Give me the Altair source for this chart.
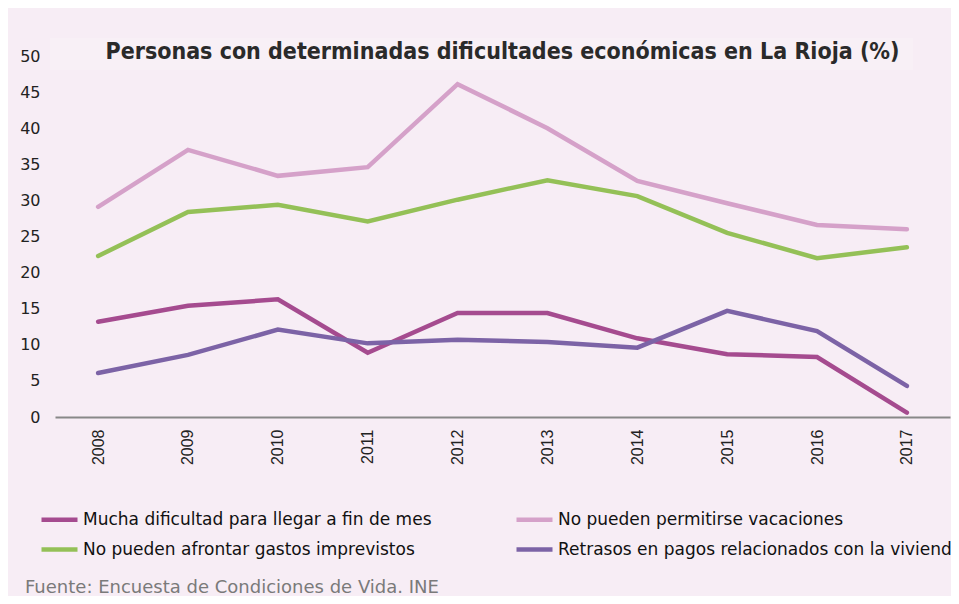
import altair as alt
import pandas as pd

years = ["2008", "2009", "2010", "2011", "2012", "2013", "2014", "2015", "2016", "2017"]
series = [
    "Mucha dificultad para llegar a fin de mes",
    "No pueden afrontar gastos imprevistos",
    "No pueden permitirse vacaciones",
    "Retrasos en pagos relacionados con la vivienda",
]
mucha = [13.2, 15.4, 16.3, 8.9, 14.4, 14.4, 10.9, 8.7, 8.3, 0.6]
imprevistos = [22.3, 28.4, 29.4, 27.1, 30.1, 32.8, 30.6, 25.5, 22.0, 23.5]
vacaciones = [29.1, 37.0, 33.4, 34.6, 46.1, 40.0, 32.7, 29.6, 26.6, 26.0]
retrasos = [6.1, 8.6, 12.1, 10.2, 10.7, 10.4, 9.6, 14.7, 11.9, 4.3]
colors = ["#a54b8f", "#94c057", "#d5a1c9", "#7c63a6"]

title_text = "Personas con determinadas dificultades económicas en La Rioja (%)"
source_text = "Fuente: Encuesta de Condiciones de Vida. INE"

rows = []
for name, vals in zip(series, [mucha, imprevistos, vacaciones, retrasos]):
    for y, v in zip(years, vals):
        rows.append({"year": y, "value": v, "serie": name})
df = pd.DataFrame(rows)

W, H = 895, 361
BG = "#f7edf5"

band = alt.Chart(pd.DataFrame({"a": [1]})).mark_rect(color="#f8f0f6").encode(
    x=alt.value(-5), x2=alt.value(858), y=alt.value(-18), y2=alt.value(14)
)

lines = alt.Chart(df).mark_line(strokeWidth=4.5, strokeCap="round", strokeJoin="miter").encode(
    x=alt.X("year:N", sort=years,
            scale=alt.Scale(type="point", padding=0.48),
            axis=alt.Axis(title=None, labelAngle=270, labelAlign="right", labelBaseline="middle",
                          labelPadding=12, ticks=False, domainColor="#888888", domainWidth=2,
                          labelFont="Liberation Sans", labelFontSize=16, labelColor="#222222")),
    y=alt.Y("value:Q", scale=alt.Scale(domain=[0, 50], nice=False),
            axis=alt.Axis(title=None, values=list(range(0, 55, 5)), grid=False, domain=False,
                          ticks=False, labelPadding=15, labelFont="DejaVu Sans",
                          labelFontSize=16, labelColor="#222222")),
    color=alt.Color("serie:N", sort=series,
                    scale=alt.Scale(domain=series, range=colors),
                    legend=alt.Legend(title=None, orient="none", legendX=-16, legendY=443,
                                      columns=2, columnPadding=75, rowPadding=0,
                                      symbolType="stroke", symbolSize=1296, symbolStrokeWidth=4.5,
                                      labelOffset=3, labelFont="DejaVu Sans",
                                      labelFontSize=17, labelColor="#111111", labelLimit=0)),
    order=alt.Order("serie:N"),
)

title = alt.Chart(pd.DataFrame({"t": [title_text]})).mark_text(
    font="DejaVu Sans Condensed", fontSize=23, fontWeight="bold", color="#2a2a2a",
    align="center", baseline="middle"
).encode(text="t:N", x=alt.value(W / 2), y=alt.value(-4))

source = alt.Chart(pd.DataFrame({"t": [source_text]})).mark_text(
    font="DejaVu Sans", fontSize=18, color="#7a7a7a", align="left", baseline="middle"
).encode(text="t:N", x=alt.value(-30), y=alt.value(532))

chart = alt.layer(band, lines, title, source).properties(
    width=W, height=H,
    autosize=alt.AutoSizeParams(type="none"),
    padding={"left": 47, "top": 48, "right": 1, "bottom": 179},
    background=BG,
).configure_view(stroke=None)

chart.save("out.html", embed_options={"renderer": "svg", "actions": False})
